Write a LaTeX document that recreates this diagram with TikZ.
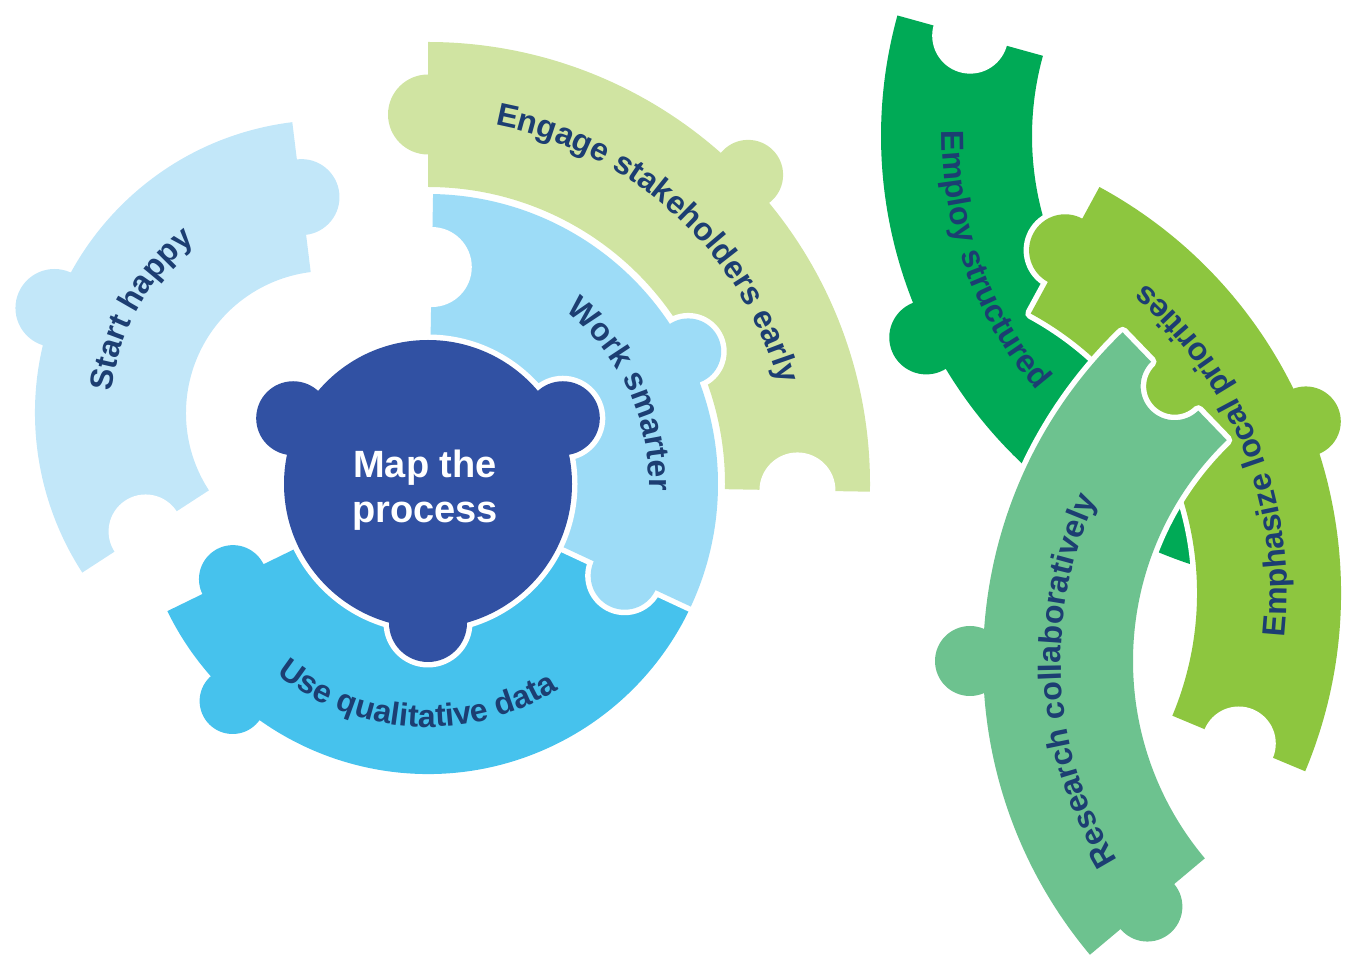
\documentclass[tikz,border=0pt]{standalone}
\usepackage{fontspec}
\setmainfont{Liberation Sans}
\usetikzlibrary{calc,decorations.text}
\definecolor{startblue}{RGB}{194,231,249}
\definecolor{workblue}{RGB}{157,220,247}
\definecolor{useblue}{RGB}{70,194,237}
\definecolor{mapblue}{RGB}{49,81,163}
\definecolor{engagegreen}{RGB}{208,228,162}
\definecolor{employgreen}{RGB}{0,170,86}
\definecolor{emphgreen}{RGB}{141,198,63}
\definecolor{researchgreen}{RGB}{109,194,143}
\definecolor{labelnavy}{RGB}{28,62,114}
\newcommand{\ringsector}[4]{(#3:#1) -- (#3:#2) arc[start angle=#3, end angle=#4, radius=#2] -- (#4:#1) arc[start angle=#4, end angle=#3, radius=#1] -- cycle}
\newcommand{\arcfont}{\fontsize{32}{38}\selectfont\bfseries}

\begin{document}
\begin{tikzpicture}[
      x=1pt, y=1pt,
      gap/.style={draw=white, line width=11pt, line join=round},
      arclabel/.style={decorate, decoration={text along path, text color=labelnavy, text align=center}},
      maptext/.style={text=white, align=center, font=\fontsize{38}{45}\selectfont\bfseries}
    ]
      \useasboundingbox (0,0) rectangle (1355,970);

      \begin{scope}[shift={(328,557)}]
        \fill[startblue] \ringsector{142}{293}{97}{213} (97:217.5) circle[radius=38] (159:293) circle[radius=39];
        \fill[white] (213:217.5) circle[radius=37];
        \path[arclabel, decoration={text={|\arcfont|Start happy}}] (211:217) arc[start angle=211, end angle=91, radius=217];
      \end{scope}

      \begin{scope}[shift={(428,486)}]
        \fill[engagegreen] \ringsector{297}{442}{-1}{90} (90:369.5) circle[radius=40] (44:445) circle[radius=35];
        \fill[white] (-1:369.5) circle[radius=38];
        \fill[useblue] \ringsector{144}{290}{206}{335} (206:217) circle[radius=34] (228:292) circle[radius=33];
        \path[gap] \ringsector{144}{290}{-25}{89} (-25:217) circle[radius=34] (27:292) circle[radius=33];
        \fill[workblue] \ringsector{144}{290}{-25}{89} (-25:217) circle[radius=34] (27:292) circle[radius=33];
        \fill[white] (89:217) circle[radius=40];
        \path[gap] (0,0) circle[radius=144] (154:150) circle[radius=37] (26:150) circle[radius=37] (270:139) circle[radius=39];
        \fill[mapblue] (0,0) circle[radius=144] (154:150) circle[radius=37] (26:150) circle[radius=37] (270:139) circle[radius=39];
        \node[maptext] (map) at (-3,-6) {Map the\\process};

        \path[arclabel, decoration={text={|\arcfont|Engage stakeholders early}}] (107.6:365) arc[start angle=107.6, end angle=-12.4, radius=365];
        \path[arclabel, decoration={text={|\arcfont|Work smarter}}] (85:221) arc[start angle=85, end angle=-35, radius=221];
        \path[arclabel, decoration={text={|\arcfont|Use qualitative data}}] (197:243) arc[start angle=197, end angle=337, radius=243];
      \end{scope}

      \begin{scope}[shift={(1332,834)}]
        \fill[employgreen] \ringsector{300}{451}{164.5}{256} (206.4:453) circle[radius=37];
        \fill[white] (164.5:375.5) circle[radius=38];
        \path[arclabel, decoration={text={|\arcfont|Employ structured}}] (150:390) arc[start angle=150, end angle=250, radius=390];
      \end{scope}

      \begin{scope}[shift={(879,377)}]
        \path[gap] \ringsector{318}{462}{-22.7}{61.5} (61.5:390) circle[radius=36] (21.9:460) circle[radius=35];
        \fill[emphgreen] \ringsector{318}{462}{-22.7}{61.5} (61.5:390) circle[radius=36] (21.9:460) circle[radius=35];
        \fill[white] (-22.7:390) circle[radius=37];
        \path[arclabel, decoration={text={|\arcfont|Emphasize local priorities}}] (-38.5:408) arc[start angle=-38.5, end angle=81.5, radius=408];
      \end{scope}

      \begin{scope}[shift={(1440,309)}]
        \path[gap] (134:307) -- (134:348) arc[start angle=314, end angle=134, radius=34] -- (134:457) arc[start angle=134, end angle=220, radius=457] -- (220:307) arc[start angle=220, end angle=134, radius=307] -- cycle
          (220:382) circle[radius=35] (180:470) circle[radius=35];
        \fill[researchgreen] (134:307) -- (134:348) arc[start angle=314, end angle=134, radius=34] -- (134:457) arc[start angle=134, end angle=220, radius=457] -- (220:307) arc[start angle=220, end angle=134, radius=307] -- cycle
          (220:382) circle[radius=35] (180:470) circle[radius=35];
        \path[arclabel, decoration={text={|\arcfont|Research collaboratively}}] (243.3:379) arc[start angle=243.3, end angle=123.3, radius=379];
      \end{scope}
    \end{tikzpicture}
\end{document}
